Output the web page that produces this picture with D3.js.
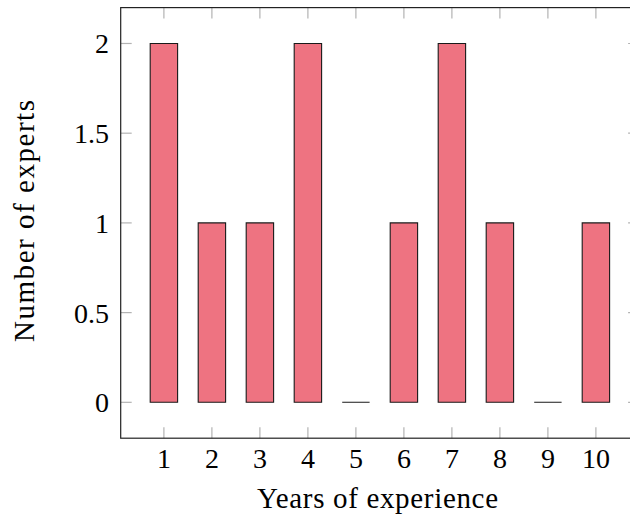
<!DOCTYPE html>
<html>
<head>
<meta charset="utf-8">
<script src="https://cdn.jsdelivr.net/npm/d3@7"></script>
<style>
  html, body { margin: 0; padding: 0; background: #fff; }
  svg { display: block; }
  text { font-family: "Liberation Serif", "Times New Roman", serif; fill: #000; }
</style>
</head>
<body>
<svg id="chart" width="630" height="516"></svg>
<script>
const years = [1, 2, 3, 4, 5, 6, 7, 8, 9, 10];
const experts = [2, 1, 1, 2, 0, 1, 2, 1, 0, 1];
const yTicks = [0, 0.5, 1, 1.5, 2];
const yTickLabels = ["0", "0.5", "1", "1.5", "2"];
const xTitle = "Years of experience";
const yTitle = "Number of experts";

(function () {
const svg = d3.select("#chart");
const pLeft = 120.7, pRight = 639.1, pTop = 7.6, pBottom = 438.2;
const x = d3.scaleLinear().domain([0.1, 10.9]).range([pLeft, pRight]);
const y = d3.scaleLinear().domain([-0.2, 2.2]).range([pBottom, pTop]);
const barW = 27.4;
const tickLen = 11;
const fs = 28;

// ticks (inner, gray) on all four sides
const tickColor = "#b3b3b3";
const g = svg.append("g");
years.forEach(v => {
  g.append("line").attr("x1", x(v)).attr("x2", x(v)).attr("y1", pBottom).attr("y2", pBottom - tickLen)
    .attr("stroke", tickColor).attr("stroke-width", 1.2);
  g.append("line").attr("x1", x(v)).attr("x2", x(v)).attr("y1", pTop).attr("y2", pTop + tickLen)
    .attr("stroke", tickColor).attr("stroke-width", 1.2);
});
yTicks.forEach(v => {
  g.append("line").attr("x1", pLeft).attr("x2", pLeft + tickLen).attr("y1", y(v)).attr("y2", y(v))
    .attr("stroke", tickColor).attr("stroke-width", 1.2);
  g.append("line").attr("x1", pRight).attr("x2", pRight - tickLen).attr("y1", y(v)).attr("y2", y(v))
    .attr("stroke", tickColor).attr("stroke-width", 1.2);
});

// bars
svg.append("g").selectAll("path").data(years).join("path")
  .attr("d", (d, i) => {
    const x0 = x(d) - barW / 2, x1 = x(d) + barW / 2;
    const y0 = y(0), y1 = y(experts[i]);
    return `M${x0},${y0}H${x1}V${y1}H${x0}Z`;
  })
  .attr("fill", "#ee7381")
  .attr("stroke", "#1a1a1a")
  .attr("stroke-width", 1.1);

// axis box
svg.append("rect").attr("x", pLeft).attr("y", pTop)
  .attr("width", pRight - pLeft).attr("height", pBottom - pTop)
  .attr("fill", "none").attr("stroke", "#222").attr("stroke-width", 1.2);

// x tick labels
svg.append("g").selectAll("text").data(years).join("text")
  .attr("x", d => x(d)).attr("y", 467.5)
  .attr("text-anchor", "middle").attr("font-size", fs)
  .text(d => d);

// y tick labels
svg.append("g").selectAll("text").data(yTicks).join("text")
  .attr("x", 109).attr("y", d => y(d) + 10)
  .attr("text-anchor", "end").attr("font-size", fs)
  .text((d, i) => yTickLabels[i]);

// titles
svg.append("text").attr("x", 377.5).attr("y", 507.5)
  .attr("text-anchor", "middle").attr("font-size", 29)
  .attr("textLength", 241).attr("lengthAdjust", "spacing").text(xTitle);
svg.append("text")
  .attr("transform", `translate(33.5,221) rotate(-90)`)
  .attr("text-anchor", "middle").attr("font-size", 29)
  .attr("textLength", 242).attr("lengthAdjust", "spacing").text(yTitle);
})();
</script>
</body>
</html>
